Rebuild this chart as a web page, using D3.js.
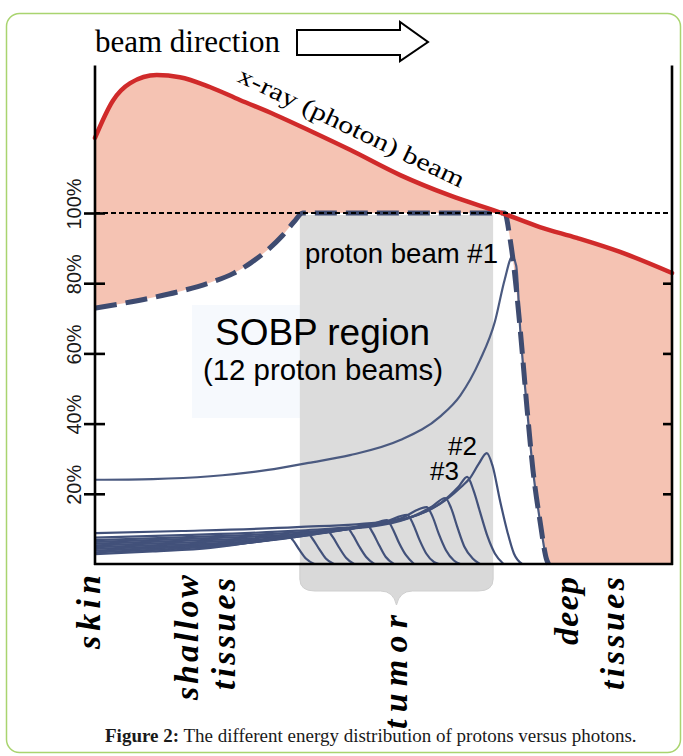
<!DOCTYPE html>
<html><head><meta charset="utf-8">
<script src="https://cdn.jsdelivr.net/npm/d3@7"></script>
<style>body{margin:0;background:#fff;} svg{display:block}</style>
</head><body>
<svg id="c" width="683" height="756"></svg>
<script>
// ---------- data ----------
const yTicks = [20, 40, 60, 80, 100];
const yTickLabels = ["20%", "40%", "60%", "80%", "100%"];
const rightTicks = [20, 40, 60, 80];

// x-ray (photon) depth-dose curve: depth (0-100 = skin..deep), dose %
const xrayDepth = [0, 3.1, 6.1, 10.7, 14.7, 19.9, 25.1, 31.2, 37.8, 44.2, 52.9, 61.5, 70.5, 77.1, 83.5, 91, 100];
const xrayDose  = [121.4, 132, 137, 139.3, 138.7, 135.9, 132.2, 128, 123, 118, 110.8, 105, 100, 96, 92.9, 88.9, 82.9];

// SOBP envelope (dashed)
const sobpDepth = [0, 5, 10, 15, 20, 24, 27, 30, 32.5, 34.5, 36, 71, 71.9, 72.5, 73.7, 74.9, 75.9, 77.1, 78.3, 78.6];
const sobpDose  = [72.9, 74.3, 75.9, 77.8, 80.2, 82.8, 85.8, 89.6, 93.6, 97.5, 100, 100, 93, 86, 66.7, 43.9, 26.8, 12.5, 1.1, 0];

// individual proton beams [depth, dose]
const beam1  = [[0,24],[10,24.2],[20,25],[30,26.8],[37,28.8],[44.2,31],[52.9,35.3],[59.8,42],[63.3,48],[66.7,58],[69.3,69],[71,81],[72.3,87.5],[73,85],[73.7,66.7],[74.9,43.9],[75.9,26.8],[77.1,12.5],[78.3,1.1],[78.6,0]];
const beam2  = [[0,8.8],[15,9.4],[35,10.5],[50,12],[57.5,15],[61,18.5],[63.5,22],[65,24.5],[66.5,28.5],[67.9,31.6],[68.9,28],[70.2,18],[71.5,9],[72.6,3],[74,0]];
const beam3  = [[0,7.5],[15,8.2],[35,9.5],[50,11.5],[56,14],[60,17.5],[63,22],[64.5,24.8],[65.6,21],[66.7,15],[68,8],[69.3,3],[70.8,0]];
const beam4  = [[0,6.8],[15,7.6],[35,9],[50,11.2],[55,13.5],[58.5,16.5],[60.7,18.8],[61.7,16],[62.8,10.5],[64,5],[65.5,1.5],[66.7,0]];
const beam5  = [[0,6.3],[15,7.1],[35,8.6],[47,10.8],[53,13],[57.5,16.2],[58.5,13.5],[59.6,8.5],[60.8,4],[62.2,1],[63.3,0]];
const beam6  = [[0,5.8],[15,6.6],[35,8.2],[45,10.3],[50.5,12.2],[54.1,14],[55.1,11.5],[56.2,7],[57.4,3],[58.8,0.5],[59.6,0]];
const beam7  = [[0,5.3],[15,6.1],[30,7.2],[42,9.5],[47.5,11],[50.6,12.5],[51.6,10],[52.7,6],[53.9,2.5],[55.3,0]];
const beam8  = [[0,4.8],[15,5.6],[30,6.8],[40,8.9],[44.5,10.2],[47.1,11.3],[48.1,9],[49.2,5.5],[50.4,2],[51.8,0]];
const beam9  = [[0,4.3],[14,5.1],[28,6.3],[37,8.2],[41.3,9.4],[43.7,10.3],[44.7,8.2],[45.8,5],[47,2],[48.4,0]];
const beam10 = [[0,3.8],[12,4.6],[25,5.8],[34,7.7],[38,8.8],[40.2,9.6],[41.2,7.7],[42.3,4.7],[43.5,1.8],[44.9,0]];
const beam11 = [[0,3.3],[11,4.1],[22,5.2],[31,7.1],[34.5,8.2],[36.7,9],[37.7,7.2],[38.8,4.4],[40,1.6],[41.4,0]];
const beam12 = [[0,2.8],[10,3.6],[20,4.6],[28,6.5],[31.2,7.6],[33.3,8.4],[34.3,6.8],[35.4,4.1],[36.6,1.5],[38,0]];
const smallBeams = [beam2, beam3, beam4, beam5, beam6, beam7, beam8, beam9, beam10, beam11, beam12];

const tumorRange = [35.5, 69];

// ---------- drawing ----------
const svg = d3.select("#c");
const x = d3.scaleLinear().domain([0, 100]).range([95, 672]);
const y = d3.scaleLinear().domain([0, 100]).range([564, 213]);
const yTop = y(142);

// frame
svg.append("rect").attr("x", 6.5).attr("y", 13.5).attr("width", 674).attr("height", 739)
  .attr("rx", 13).attr("fill", "none").attr("stroke", "#a9d46f").attr("stroke-width", 1.5);

const xray = xrayDepth.map((d, i) => [d, xrayDose[i]]);
const sobp = sobpDepth.map((d, i) => [d, sobpDose[i]]);

// pink under x-ray
svg.append("path").datum(xray)
  .attr("d", d3.area().x(d => x(d[0])).y0(y(0)).y1(d => y(d[1])).curve(d3.curveMonotoneX))
  .attr("fill", "#f5c3b3");
// white under SOBP envelope
svg.append("path").datum(sobp)
  .attr("d", d3.area().x(d => x(d[0])).y0(y(0)).y1(d => y(d[1])).curve(d3.curveMonotoneX))
  .attr("fill", "#ffffff");

// faint box behind SOBP text
svg.append("rect").attr("x", 192).attr("y", 305).attr("width", 110).attr("height", 113).attr("fill", "#f6f9fd");

// tumor gray region + brace
const tx0 = x(tumorRange[0]), tx1 = x(tumorRange[1]), tm = (tx0 + tx1) / 2;
svg.append("rect").attr("x", tx0).attr("y", y(100) + 2).attr("width", tx1 - tx0).attr("height", y(0) - y(100) - 2)
  .attr("fill", "#dcdcdc");
svg.append("path")
  .attr("d", `M${tx0},${y(0)} V579 Q${tx0},591 ${tx0 + 15},591 H${tm - 16} Q${tm - 3},591 ${tm},605 Q${tm + 3},591 ${tm + 16},591 H${tx1 - 15} Q${tx1},591 ${tx1},579 V${y(0)} Z`)
  .attr("fill", "#d9d9d9").attr("stroke", "#cfcfcf").attr("stroke-width", 1);

// beams
const beamLine = d3.line().x(d => x(d[0])).y(d => y(d[1])).curve(d3.curveMonotoneX);
svg.append("g").selectAll("path").data(smallBeams).join("path")
  .attr("d", beamLine).attr("fill", "none").attr("stroke", "#42517a").attr("stroke-width", 2.2);
svg.append("path").datum(beam1).attr("d", beamLine)
  .attr("fill", "none").attr("stroke", "#4b5a80").attr("stroke-width", 2.2);

// SOBP dashed envelope
svg.append("path").datum(sobp).attr("d", beamLine)
  .attr("fill", "none").attr("stroke", "#3e4b70").attr("stroke-width", 5)
  .attr("stroke-dasharray", "22,9");

// x-ray line
svg.append("path").datum(xray).attr("d", beamLine)
  .attr("fill", "none").attr("stroke", "#d02a2a").attr("stroke-width", 4.5).attr("stroke-linecap", "round");

// 100% dotted
svg.append("line").attr("x1", x(0)).attr("x2", x(100)).attr("y1", y(100)).attr("y2", y(100))
  .attr("stroke", "#000").attr("stroke-width", 2.2).attr("stroke-dasharray", "5,3");

// axes
const axG = svg.append("g").attr("stroke", "#000").attr("stroke-width", 2.6);
axG.append("line").attr("x1", x(0)).attr("x2", x(0)).attr("y1", yTop).attr("y2", y(0) + 1);
axG.append("line").attr("x1", x(100)).attr("x2", x(100)).attr("y1", yTop).attr("y2", y(0) + 1);
axG.append("line").attr("x1", x(0) - 1).attr("x2", x(100) + 1).attr("y1", y(0)).attr("y2", y(0));

function styleAxis(g) {
  g.select(".domain").remove();
  g.selectAll(".tick line").attr("stroke", "#000").attr("stroke-width", 2.6);
  g.selectAll(".tick text").remove();
}
svg.append("g").attr("transform", `translate(${x(0)},0)`)
  .call(d3.axisLeft(y).tickValues(yTicks).tickSize(11).tickFormat("")).call(styleAxis);
svg.append("g").attr("transform", `translate(${x(0)},0)`)
  .call(d3.axisRight(y).tickValues(yTicks).tickSize(10).tickFormat("")).call(styleAxis);
svg.append("g").attr("transform", `translate(${x(100)},0)`)
  .call(d3.axisLeft(y).tickValues(rightTicks).tickSize(9).tickFormat("")).call(styleAxis);

// y labels
yTicks.forEach((v, i) => {
  svg.append("text").attr("transform", `translate(81,${y(v) - 9}) rotate(-90)`)
    .attr("text-anchor", "middle").attr("font-family", "Liberation Sans, Arial, sans-serif")
    .attr("font-size", 20).attr("fill", "#1a1a1a").text(yTickLabels[i]);
});

// header
svg.append("text").attr("x", 95).attr("y", 52).attr("font-family", "Liberation Serif, serif")
  .attr("font-size", 32).attr("textLength", 185).attr("lengthAdjust", "spacingAndGlyphs")
  .attr("fill", "#000").text("beam direction");
svg.append("polygon").attr("points", "297,30 400,30 400,22 428,42 400,61 400,55 297,55")
  .attr("fill", "#fff").attr("stroke", "#000").attr("stroke-width", 2);

// x-ray label
svg.append("text").attr("transform", "translate(236,81) rotate(25.5)")
  .attr("font-family", "Liberation Serif, serif").attr("font-size", 24)
  .attr("textLength", 248).attr("lengthAdjust", "spacingAndGlyphs").attr("fill", "#000")
  .text("x-ray (photon) beam");

// annotations
const sans = "Liberation Sans, Arial, sans-serif";
svg.append("text").attr("x", 305).attr("y", 263).attr("font-family", sans).attr("font-size", 28)
  .attr("textLength", 193).attr("lengthAdjust", "spacingAndGlyphs").attr("fill", "#000").text("proton beam #1");
svg.append("text").attr("x", 215).attr("y", 345).attr("font-family", sans).attr("font-size", 37)
  .attr("textLength", 215).attr("lengthAdjust", "spacingAndGlyphs").attr("fill", "#000").text("SOBP region");
svg.append("text").attr("x", 203).attr("y", 380).attr("font-family", sans).attr("font-size", 29.5)
  .attr("textLength", 240).attr("lengthAdjust", "spacingAndGlyphs").attr("fill", "#000").text("(12 proton beams)");
svg.append("text").attr("x", 448).attr("y", 455).attr("font-family", sans).attr("font-size", 26)
  .attr("fill", "#000").text("#2");
svg.append("text").attr("x", 430).attr("y", 480).attr("font-family", sans).attr("font-size", 26)
  .attr("fill", "#000").text("#3");

// bottom region labels (rotated)
const regionLabels = [
  { t: "skin", bx: 100, top: 575, len: 74 },
  { t: "shallow", bx: 198, top: 575, len: 125 },
  { t: "tissues", bx: 235, top: 578, len: 112 },
  { t: "tumor", bx: 407, top: 615, len: 114 },
  { t: "deep", bx: 578, top: 577, len: 68 },
  { t: "tissues", bx: 624, top: 577, len: 113 }
];
regionLabels.forEach(r => {
  svg.append("text").attr("transform", `translate(${r.bx},${r.top}) rotate(-90)`)
    .attr("text-anchor", "end").attr("font-family", "Liberation Serif, serif")
    .attr("font-style", "italic").attr("font-weight", "bold").attr("font-size", 34)
    .attr("textLength", r.len).attr("lengthAdjust", "spacing").attr("fill", "#000").text(r.t);
});

// caption
const cap = svg.append("text").attr("x", 105).attr("y", 742).attr("font-family", "Liberation Serif, serif")
  .attr("font-size", 19).attr("fill", "#1a1a1a");
cap.append("tspan").attr("font-weight", "bold").text("Figure 2:");
cap.append("tspan").text(" The different energy distribution of protons versus photons.");
</script>
</body></html>
